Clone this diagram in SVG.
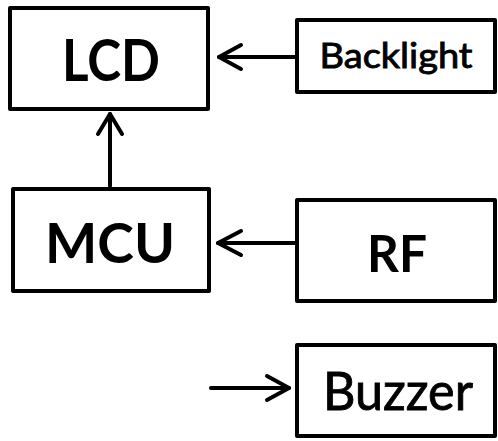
<svg xmlns="http://www.w3.org/2000/svg" width="498" height="441" viewBox="0 0 498 441">
<style>
.box{fill:#fff;stroke:#000;stroke-width:4;stroke-linejoin:round}
.t{font-family:Lato,"Open Sans",sans-serif;font-weight:bold;text-anchor:middle;fill:#000}
.r{font-weight:normal;stroke:#000;stroke-width:0.9}
.ln{fill:none;stroke:#000;stroke-width:4;stroke-linecap:round;stroke-linejoin:round}
</style>
<rect width="498" height="441" fill="#fff"/>
<g id="connectors">
<line class="ln" x1="110" y1="186" x2="110" y2="114"/>
<polyline class="ln" points="98,134 110,114 122,134"/>
<line class="ln" x1="295" y1="57" x2="219" y2="57"/>
<polyline class="ln" points="241,45 219,57 241,69"/>
<line class="ln" x1="295" y1="243" x2="218" y2="243"/>
<polyline class="ln" points="241,231 218,243 241,255"/>
<line class="ln" x1="211" y1="388" x2="289" y2="388"/>
<polyline class="ln" points="267,376 289,388 267,400"/>
</g>
<g id="lcd"><rect class="box" x="10" y="8" width="198" height="101"/><text class="t" x="111" y="81" font-size="57" textLength="98" lengthAdjust="spacingAndGlyphs">LCD</text></g>
<g id="backlight"><rect class="box" x="297" y="20" width="198" height="72"/><text class="t r" x="396" y="68" font-size="35" textLength="153" lengthAdjust="spacingAndGlyphs">Backlight</text></g>
<g id="mcu"><rect class="box" x="13" y="189" width="196" height="102"/><text class="t" x="110" y="263" font-size="56" textLength="130" lengthAdjust="spacingAndGlyphs">MCU</text></g>
<g id="rf"><rect class="box" x="297" y="200" width="198" height="101"/><text class="t" x="397" y="272" font-size="52" textLength="60" lengthAdjust="spacingAndGlyphs">RF</text></g>
<g id="buzzer"><rect class="box" x="297" y="345" width="198" height="91"/><text class="t r" x="398" y="410" font-size="53" textLength="150" lengthAdjust="spacingAndGlyphs">Buzzer</text></g>
</svg>
